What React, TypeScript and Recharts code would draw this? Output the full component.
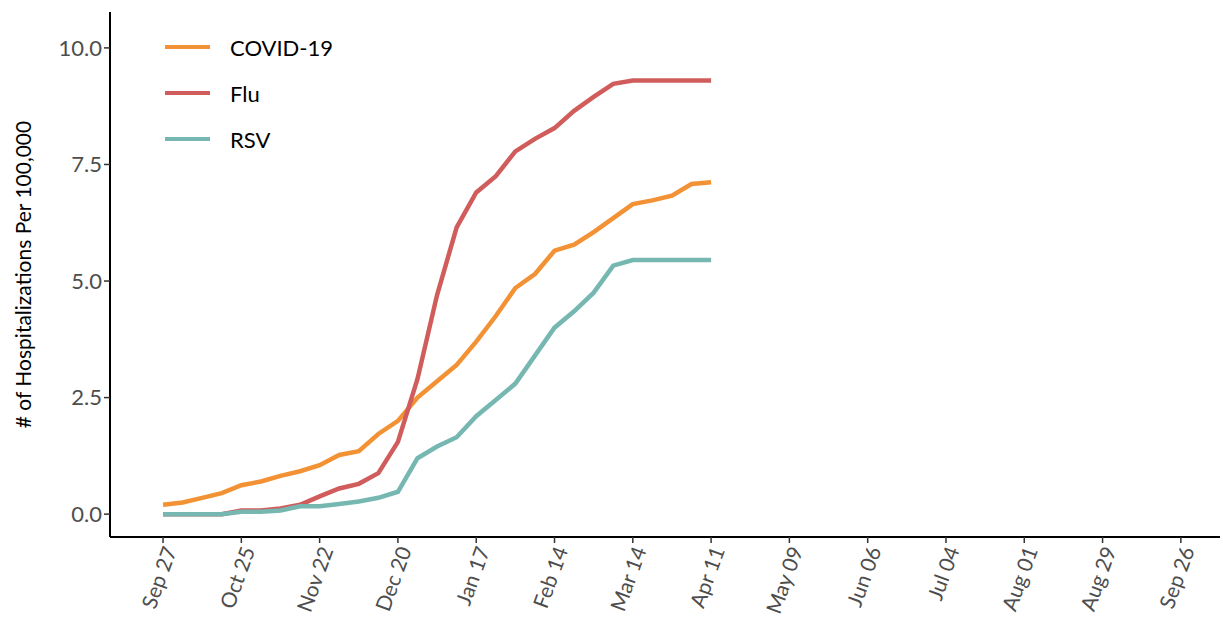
import { LineChart, Line, XAxis, YAxis } from 'recharts';

const weekLabels = ['Sep 27', 'Oct 25', 'Nov 22', 'Dec 20', 'Jan 17', 'Feb 14', 'Mar 14', 'Apr 11', 'May 09', 'Jun 06', 'Jul 04', 'Aug 01', 'Aug 29', 'Sep 26'];
const covid = [0.2, 0.25, 0.35, 0.45, 0.62, 0.7, 0.82, 0.92, 1.05, 1.27, 1.35, 1.72, 2.0, 2.5, 2.85, 3.2, 3.7, 4.25, 4.85, 5.15, 5.65, 5.78, 6.05, 6.35, 6.65, 6.73, 6.83, 7.08, 7.12];
const flu = [0, 0, 0, 0, 0.08, 0.08, 0.12, 0.2, 0.38, 0.55, 0.65, 0.88, 1.55, 2.9, 4.7, 6.15, 6.9, 7.25, 7.78, 8.05, 8.28, 8.65, 8.95, 9.23, 9.3, 9.3, 9.3, 9.3, 9.3];
const rsv = [0, 0, 0, 0, 0.05, 0.05, 0.08, 0.17, 0.17, 0.22, 0.27, 0.35, 0.48, 1.2, 1.45, 1.65, 2.1, 2.45, 2.8, 3.4, 4.0, 4.35, 4.75, 5.33, 5.45, 5.45, 5.45, 5.45, 5.45];

const series = [
  { key: 'covid', name: 'COVID-19', color: '#F39234' },
  { key: 'flu', name: 'Flu', color: '#D05C5C' },
  { key: 'rsv', name: 'RSV', color: '#76B7B2' },
];

const data = covid.map((c, i) => ({ week: i, covid: c, flu: flu[i], rsv: rsv[i] }));
const xTicks = weekLabels.map((_, i) => i * 4);
const font = 'Lato, "Open Sans", sans-serif';

export default function App() {
  return (
    <div style={{ position: 'absolute', left: 0, top: 0, width: 1223, height: 637, background: '#fff', fontFamily: font }}>
      <LineChart width={1223} height={637} data={data} margin={{ top: 12, right: 3, left: 0, bottom: 0 }}>
        <XAxis
          dataKey="week"
          type="number"
          domain={[-2.71, 54.0]}
          ticks={xTicks}
          tickFormatter={(v) => weekLabels[v / 4]}
          height={100}
          angle={-70}
          textAnchor="end"
          interval={0}
          tick={{ fill: '#4d4d4d', fontSize: 21, fontFamily: font }}
          axisLine={{ stroke: '#000', strokeWidth: 2 }}
          tickLine={{ stroke: '#333', strokeWidth: 1.5 }}
          tickSize={6}
        />
        <YAxis
          domain={[-0.49, 10.77]}
          ticks={[0, 2.5, 5, 7.5, 10]}
          tickFormatter={(v) => v.toFixed(1)}
          width={110}
          allowDataOverflow
          tick={{ fill: '#4d4d4d', fontSize: 22, fontFamily: font }}
          axisLine={{ stroke: '#000', strokeWidth: 2 }}
          tickLine={{ stroke: '#333', strokeWidth: 1.5 }}
          tickSize={6}
          label={{ value: '# of Hospitalizations Per 100,000', angle: -90, position: 'insideLeft', offset: 24, style: { textAnchor: 'middle', fill: '#000', fontSize: 21, fontWeight: 400, fontFamily: font } }}
        />
        {series.map((s) => (
          <Line key={s.key} dataKey={s.key} stroke={s.color} strokeWidth={4.5} dot={false} isAnimationActive={false} />
        ))}
      </LineChart>
      <div style={{ position: 'absolute', left: 165, top: 24 }}>
        {series.map((s) => (
          <div key={s.key} style={{ display: 'flex', alignItems: 'center', height: 46 }}>
            <div style={{ width: 45, height: 4.5, background: s.color, marginRight: 20 }} />
            <span style={{ fontSize: 22, color: '#000' }}>{s.name}</span>
          </div>
        ))}
      </div>
    </div>
  );
}
